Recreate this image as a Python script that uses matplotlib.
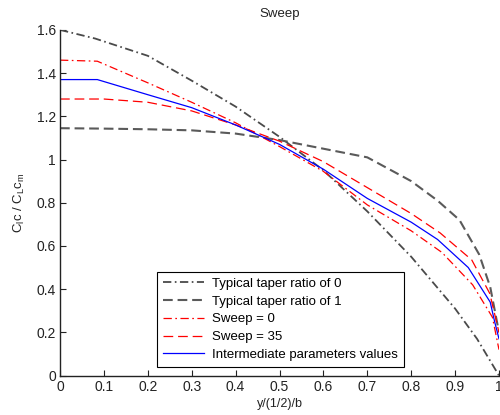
import matplotlib
matplotlib.use('Agg')
import matplotlib.pyplot as plt

# Spanwise stations and load distributions
x_t0 = [0, 0.08, 0.2, 0.3, 0.4, 0.5, 0.6, 0.7, 0.8, 0.9, 0.95, 1.0]
y_t0 = [1.60, 1.56, 1.48, 1.365, 1.245, 1.105, 0.95, 0.76, 0.55, 0.31, 0.17, 0.0]

x_t1 = [0, 0.1, 0.2, 0.3, 0.4, 0.5, 0.6, 0.7, 0.8, 0.86, 0.91, 0.955, 0.98, 1.0]
y_t1 = [1.145, 1.143, 1.14, 1.135, 1.12, 1.09, 1.05, 1.01, 0.90, 0.81, 0.72, 0.56, 0.41, 0.2]

x_s0 = [0, 0.085, 0.2, 0.3, 0.4, 0.5, 0.6, 0.7, 0.8, 0.87, 0.94, 0.985, 1.0]
y_s0 = [1.46, 1.455, 1.355, 1.265, 1.17, 1.06, 0.945, 0.79, 0.67, 0.57, 0.42, 0.27, 0.12]

x_s35 = [0, 0.1, 0.2, 0.3, 0.4, 0.5, 0.6, 0.7, 0.8, 0.866, 0.938, 0.979, 1.0]
y_s35 = [1.28, 1.28, 1.265, 1.225, 1.16, 1.085, 0.99, 0.87, 0.75, 0.66, 0.535, 0.38, 0.2]

x_mid = [0, 0.085, 0.2, 0.3, 0.4, 0.5, 0.6, 0.7, 0.8, 0.86, 0.93, 0.98, 0.99, 1.0]
y_mid = [1.37, 1.37, 1.30, 1.24, 1.16, 1.07, 0.955, 0.82, 0.71, 0.63, 0.50, 0.34, 0.25, 0.17]

labels = ['Typical taper ratio of 0', 'Typical taper ratio of 1',
          'Sweep = 0', 'Sweep = 35', 'Intermediate parameters values']

xticks = [0, 0.1, 0.2, 0.3, 0.4, 0.5, 0.6, 0.7, 0.8, 0.9, 1.0]
xticklabels = ['0', '0.1', '0.2', '0.3', '0.4', '0.5', '0.6', '0.7', '0.8', '0.9', '1']
yticks = [0, 0.2, 0.4, 0.6, 0.8, 1.0, 1.2, 1.4, 1.6]
yticklabels = ['0', '0.2', '0.4', '0.6', '0.8', '1', '1.2', '1.4', '1.6']

plt.rcParams['font.family'] = ['Liberation Sans', 'DejaVu Sans']
plt.rcParams['font.size'] = 9
plt.rcParams['mathtext.fontset'] = 'custom'
plt.rcParams['mathtext.rm'] = 'Liberation Sans'
plt.rcParams['lines.scale_dashes'] = False

fig = plt.figure(figsize=(5, 4.15), dpi=100)
ax = fig.add_axes([0.12, 0.095, 0.878, 0.833])

ax.plot(x_t0, y_t0, color='#4a4a4a', lw=1.3, linestyle=(0, (6, 2.5, 1.2, 2.5)), label=labels[0])
ax.plot(x_t1, y_t1, color='#5a5a5a', lw=1.5, linestyle=(0, (7, 3.5)), label=labels[1])
ax.plot(x_s0, y_s0, color='red', lw=0.9, linestyle=(0, (6, 2.5, 1.2, 2.5)), label=labels[2])
ax.plot(x_s35, y_s35, color='red', lw=0.9, linestyle=(0, (7, 3.5)), label=labels[3])
ax.plot(x_mid, y_mid, color='blue', lw=0.9, label=labels[4])

ax.set_xlim(0, 1)
ax.set_ylim(0, 1.6)
ax.set_xticks(xticks)
ax.set_xticklabels(xticklabels)
ax.set_yticks(yticks)
ax.set_yticklabels(yticklabels)
ax.tick_params(direction='in', length=4, width=0.8, colors='#222222', labelsize=10, pad=3)

for side in ['top', 'right']:
    ax.spines[side].set_visible(False)
for side in ['left', 'bottom']:
    ax.spines[side].set_color('#222222')
    ax.spines[side].set_linewidth(1.0)

ax.set_title('Sweep', fontsize=9.5, color='#222222', pad=9)
ax.set_xlabel('y/(1/2)/b', fontsize=9, color='#222222', labelpad=3)
ax.set_ylabel(r'C$_\mathrm{l}$c / C$_\mathrm{L}$c$_\mathrm{m}$', fontsize=9.5,
              color='#222222', labelpad=7)

leg = ax.legend(loc='lower left', bbox_to_anchor=(0.221, 0.025), borderaxespad=0,
                fancybox=False, edgecolor='black', framealpha=1, fontsize=9.5,
                handlelength=3.1, handletextpad=0.6, labelspacing=0.42, borderpad=0.45)
leg.get_frame().set_linewidth(0.8)

fig.savefig('out.png', dpi=100)
